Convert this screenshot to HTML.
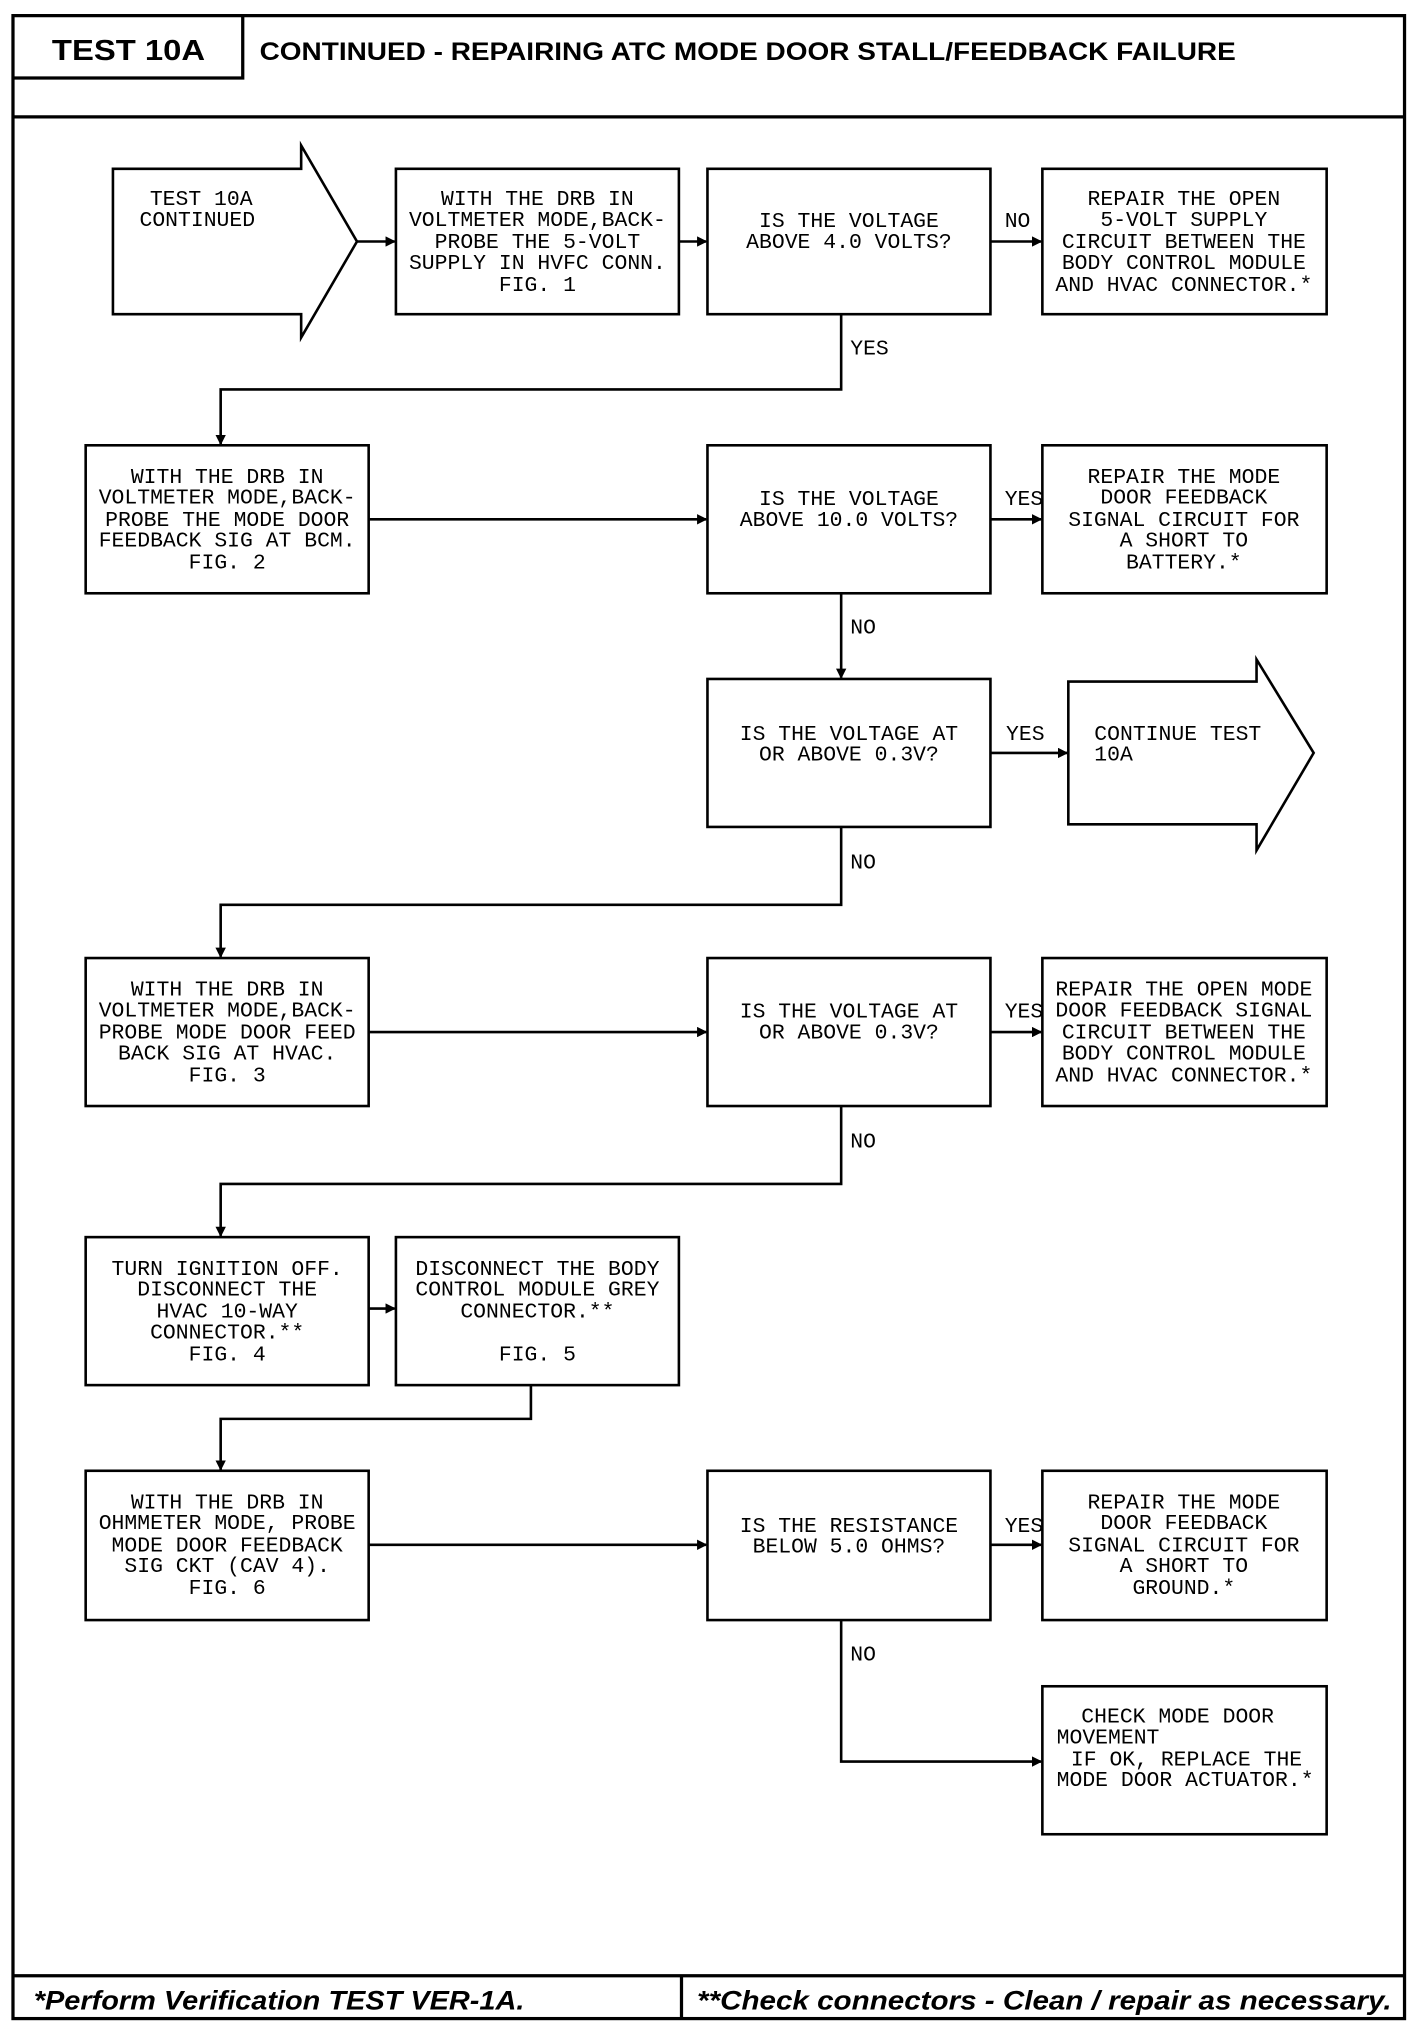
<!DOCTYPE html>
<html><head><meta charset="utf-8"><style>
html,body{margin:0;padding:0;background:#fff;}
svg{display:block;}
.t{font-family:"Liberation Mono",monospace;font-size:16.5px;fill:#000;}
.h{font-family:"Liberation Sans",sans-serif;font-weight:bold;fill:#000;}
</style></head><body>
<svg width="1424" height="2042" viewBox="0 0 1097 1573" xmlns="http://www.w3.org/2000/svg">
<defs><marker id="a" markerWidth="8" markerHeight="8" refX="7" refY="4" orient="auto" markerUnits="userSpaceOnUse"><path d="M0,0 L8,4 L0,8 Z" fill="#000"/></marker></defs>
<rect width="1097" height="1573" fill="#fff"/>
<g fill="none" stroke="#000" stroke-width="2.5">
<rect x="10" y="12" width="1072" height="1543"/>
<line x1="10" y1="90" x2="1082" y2="90"/>
<polyline points="10,60 187,60 187,12"/>
<line x1="10" y1="1522" x2="1082" y2="1522"/>
<line x1="525" y1="1522" x2="525" y2="1555"/>
</g>
<text class="h" x="40" y="46" font-size="22" textLength="118" lengthAdjust="spacingAndGlyphs">TEST 10A</text>
<text class="h" x="200" y="46" font-size="19" textLength="752" lengthAdjust="spacingAndGlyphs">CONTINUED - REPAIRING ATC MODE DOOR STALL/FEEDBACK FAILURE</text>
<text class="h" x="26" y="1548" font-size="21" font-style="italic" textLength="378" lengthAdjust="spacingAndGlyphs">*Perform Verification TEST VER-1A.</text>
<text class="h" x="537" y="1548" font-size="21" font-style="italic" textLength="535" lengthAdjust="spacingAndGlyphs">**Check connectors - Clean / repair as necessary.</text>

<g fill="none" stroke="#000" stroke-width="2">
<polygon points="87,130 232,130 232,112 275,186 232,260 232,242 87,242"/>
<rect x="305" y="130" width="218" height="112"/>
<rect x="545" y="130" width="218" height="112"/>
<rect x="803" y="130" width="219" height="112"/>
<rect x="66" y="343" width="218" height="114"/>
<rect x="545" y="343" width="218" height="114"/>
<rect x="803" y="343" width="219" height="114"/>
<rect x="545" y="523" width="218" height="114"/>
<polygon points="823,525 968,525 968,508 1012,580 968,655 968,635 823,635"/>
<rect x="66" y="738" width="218" height="114"/>
<rect x="545" y="738" width="218" height="114"/>
<rect x="803" y="738" width="219" height="114"/>
<rect x="66" y="953" width="218" height="114"/>
<rect x="305" y="953" width="218" height="114"/>
<rect x="66" y="1133" width="218" height="115"/>
<rect x="545" y="1133" width="218" height="115"/>
<rect x="803" y="1133" width="219" height="115"/>
<rect x="803" y="1299" width="219" height="114"/>
</g>
<g fill="none" stroke="#000" stroke-width="2" marker-end="url(#a)">
<line x1="275" y1="186" x2="304" y2="186"/>
<line x1="523" y1="186" x2="544" y2="186"/>
<line x1="763" y1="186" x2="802" y2="186"/>
<polyline points="648,242 648,300 170,300 170,342"/>
<line x1="284" y1="400" x2="544" y2="400"/>
<line x1="763" y1="400" x2="802" y2="400"/>
<line x1="648" y1="457" x2="648" y2="522"/>
<line x1="763" y1="580" x2="822" y2="580"/>
<polyline points="648,637 648,697 170,697 170,737"/>
<line x1="284" y1="795" x2="544" y2="795"/>
<line x1="763" y1="795" x2="802" y2="795"/>
<polyline points="648,852 648,912 170,912 170,952"/>
<line x1="284" y1="1008" x2="304" y2="1008"/>
<polyline points="409,1067 409,1093 170,1093 170,1132"/>
<line x1="284" y1="1190" x2="544" y2="1190"/>
<line x1="763" y1="1190" x2="802" y2="1190"/>
<polyline points="648,1248 648,1357 802,1357"/>
</g>

<g class="t" text-anchor="middle">
<text x="155" y="158">TEST 10A</text><text x="152" y="174">CONTINUED</text>
<text x="414" y="158">WITH THE DRB IN</text><text x="414" y="174">VOLTMETER MODE,BACK-</text><text x="414" y="191">PROBE THE 5-VOLT</text><text x="414" y="207">SUPPLY IN HVFC CONN.</text><text x="414" y="224">FIG. 1</text>
<text x="654" y="175">IS THE VOLTAGE</text><text x="654" y="191">ABOVE 4.0 VOLTS?</text>
<text x="912" y="158">REPAIR THE OPEN</text><text x="912" y="174">5-VOLT SUPPLY</text><text x="912" y="191">CIRCUIT BETWEEN THE</text><text x="912" y="207">BODY CONTROL MODULE</text><text x="912" y="224">AND HVAC CONNECTOR.*</text>
<text x="175" y="372">WITH THE DRB IN</text><text x="175" y="388">VOLTMETER MODE,BACK-</text><text x="175" y="405">PROBE THE MODE DOOR</text><text x="175" y="421">FEEDBACK SIG AT BCM.</text><text x="175" y="438">FIG. 2</text>
<text x="654" y="389">IS THE VOLTAGE</text><text x="654" y="405">ABOVE 10.0 VOLTS?</text>
<text x="912" y="372">REPAIR THE MODE</text><text x="912" y="388">DOOR FEEDBACK</text><text x="912" y="405">SIGNAL CIRCUIT FOR</text><text x="912" y="421">A SHORT TO</text><text x="912" y="438">BATTERY.*</text>
<text x="654" y="570">IS THE VOLTAGE AT</text><text x="654" y="586">OR ABOVE 0.3V?</text>
<text x="175" y="767">WITH THE DRB IN</text><text x="175" y="783">VOLTMETER MODE,BACK-</text><text x="175" y="800">PROBE MODE DOOR FEED</text><text x="175" y="816">BACK SIG AT HVAC.</text><text x="175" y="833">FIG. 3</text>
<text x="654" y="784">IS THE VOLTAGE AT</text><text x="654" y="800">OR ABOVE 0.3V?</text>
<text x="912" y="767">REPAIR THE OPEN MODE</text><text x="912" y="783">DOOR FEEDBACK SIGNAL</text><text x="912" y="800">CIRCUIT BETWEEN THE</text><text x="912" y="816">BODY CONTROL MODULE</text><text x="912" y="833">AND HVAC CONNECTOR.*</text>
<text x="175" y="982">TURN IGNITION OFF.</text><text x="175" y="998">DISCONNECT THE</text><text x="175" y="1015">HVAC 10-WAY</text><text x="175" y="1031">CONNECTOR.**</text><text x="175" y="1048">FIG. 4</text>
<text x="414" y="982">DISCONNECT THE BODY</text><text x="414" y="998">CONTROL MODULE GREY</text><text x="414" y="1015">CONNECTOR.**</text><text x="414" y="1048">FIG. 5</text>
<text x="175" y="1162">WITH THE DRB IN</text><text x="175" y="1178">OHMMETER MODE, PROBE</text><text x="175" y="1195">MODE DOOR FEEDBACK</text><text x="175" y="1211">SIG CKT (CAV 4).</text><text x="175" y="1228">FIG. 6</text>
<text x="654" y="1180">IS THE RESISTANCE</text><text x="654" y="1196">BELOW 5.0 OHMS?</text>
<text x="912" y="1162">REPAIR THE MODE</text><text x="912" y="1178">DOOR FEEDBACK</text><text x="912" y="1195">SIGNAL CIRCUIT FOR</text><text x="912" y="1211">A SHORT TO</text><text x="912" y="1228">GROUND.*</text>
</g>
<g class="t">
<text x="843" y="570">CONTINUE TEST</text><text x="843" y="586">10A</text>
<text x="833" y="1327">CHECK MODE DOOR</text><text x="814" y="1343">MOVEMENT</text><text x="825" y="1360">IF OK, REPLACE THE</text><text x="814" y="1376">MODE DOOR ACTUATOR.*</text>
<text x="774" y="175">NO</text>
<text x="655" y="273">YES</text>
<text x="774" y="389">YES</text>
<text x="655" y="488">NO</text>
<text x="775" y="570">YES</text>
<text x="655" y="669">NO</text>
<text x="774" y="784">YES</text>
<text x="655" y="884">NO</text>
<text x="774" y="1180">YES</text>
<text x="655" y="1279">NO</text>
</g>
</svg>
</body></html>
